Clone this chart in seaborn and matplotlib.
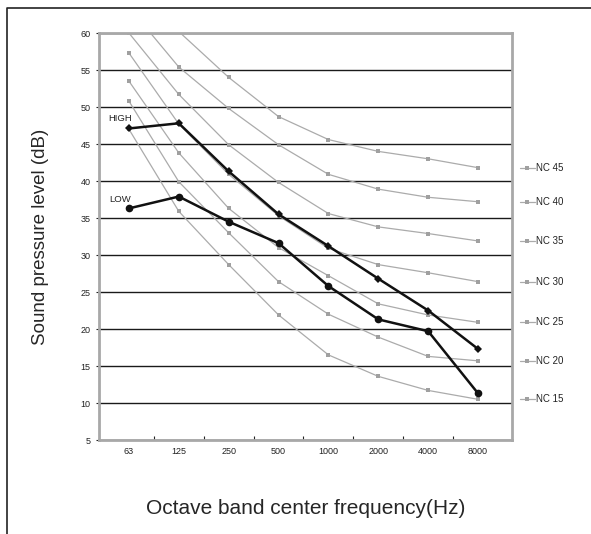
import numpy as np
import pandas as pd
import matplotlib

matplotlib.use('Agg')
import matplotlib.pyplot as plt
from matplotlib.lines import Line2D
import seaborn as sns

# Octave band centre frequencies (categorical axis)
freqs = ['63', '125', '250', '500', '1000', '2000', '4000', '8000']

# Measured spectra
high = [47.1, 47.8, 41.3, 35.5, 31.2, 26.8, 22.5, 17.3]
low = [36.3, 37.9, 34.5, 31.6, 25.8, 21.3, 19.7, 11.3]

# NC reference curves
nc_names = ['NC 45', 'NC 40', 'NC 35', 'NC 30', 'NC 25', 'NC 20', 'NC 15']
nc45 = [67.0, 60.2, 54.0, 48.7, 45.6, 44.0, 43.0, 41.8]
nc40 = [63.5, 55.4, 49.8, 44.9, 40.9, 38.9, 37.8, 37.2]
nc35 = [60.0, 51.7, 44.9, 39.8, 35.6, 33.8, 32.9, 31.9]
nc30 = [57.3, 47.7, 40.9, 35.3, 30.9, 28.7, 27.6, 26.4]
nc25 = [53.5, 43.8, 36.3, 31.0, 27.2, 23.4, 21.9, 20.9]
nc20 = [50.8, 39.9, 33.0, 26.4, 22.0, 18.9, 16.3, 15.7]
nc15 = [47.0, 35.9, 28.7, 21.9, 16.5, 13.6, 11.7, 10.5]
nc_values = [nc45, nc40, nc35, nc30, nc25, nc20, nc15]

sns.set_style('white')
plt.rcParams['font.family'] = ['Liberation Sans', 'DejaVu Sans']
plt.rcParams['text.color'] = '#222222'

fig = plt.figure(figsize=(5.91, 5.34), dpi=100)
ax = fig.add_axes([0.1675, 0.176, 0.6988, 0.7622])

# NC curves in light gray
for name, vals in zip(nc_names, nc_values):
    df = pd.DataFrame({'freq': freqs, 'spl': vals})
    sns.lineplot(data=df, x='freq', y='spl', ax=ax, color='#ababab', lw=0.9,
                 marker='s', markersize=3.2, markerfacecolor='#a0a0a0',
                 markeredgewidth=0, sort=False, zorder=2)

# HIGH / LOW spectra
df_high = pd.DataFrame({'freq': freqs, 'spl': high})
df_low = pd.DataFrame({'freq': freqs, 'spl': low})
sns.lineplot(data=df_high, x='freq', y='spl', ax=ax, color='#111111', lw=1.8,
             marker='D', markersize=4.5, markeredgewidth=0, sort=False, zorder=4)
sns.lineplot(data=df_low, x='freq', y='spl', ax=ax, color='#111111', lw=1.8,
             marker='o', markersize=5.5, markeredgewidth=0, sort=False, zorder=4)

ax.text(-0.42, high[0] + 0.7, 'HIGH', fontsize=6.8, ha='left', va='bottom')
ax.text(-0.40, low[0] + 0.6, 'LOW', fontsize=6.8, ha='left', va='bottom')

ax.set_xlim(-0.6, 7.68)
ax.set_ylim(5, 60)
ax.set_yticks(np.arange(5, 61, 5))
ax.yaxis.grid(True, color='#1a1a1a', lw=1.0)
ax.xaxis.grid(False)
ax.set_axisbelow(True)

ax.set_xticks(range(len(freqs)))
ax.set_xticklabels(freqs)
ax.set_xticks(np.arange(0.5, len(freqs) - 1, 1.0), minor=True)
ax.tick_params(axis='x', which='major', length=0, pad=5, labelsize=6.5,
               labelcolor='#222222')
ax.tick_params(axis='x', which='minor', direction='in', length=3, width=0.8,
               color='#222222', bottom=True)
ax.tick_params(axis='y', which='major', direction='out', length=2, width=0.8,
               color='#222222', pad=4, labelsize=6.5, labelcolor='#222222', left=True)

for sp in ax.spines.values():
    sp.set_color('#a8a8a8')
    sp.set_linewidth(2)

ax.set_xlabel('Octave band center frequency(Hz)', fontsize=15, labelpad=31)
ax.set_ylabel('Sound pressure level (dB)', fontsize=13.5, labelpad=23)

# End labels acting as a legend, aligned with the last value of each curve
for name, vals in zip(nc_names, nc_values):
    y = vals[-1]
    ax.add_line(Line2D([7.84, 8.14], [y, y], color='#ababab', lw=0.9,
                       clip_on=False))
    ax.plot([7.99], [y], marker='s', markersize=3.2, color='#a0a0a0',
            markeredgewidth=0, clip_on=False)
    ax.text(8.17, y, name, fontsize=7, ha='left', va='center', clip_on=False)

# partial outer frame (left and top)
fx = 7 / 591
fy = 1 - 8 / 534
fig.add_artist(Line2D([fx, fx, 1.0], [0.0, fy, fy], transform=fig.transFigure,
                      color='#222222', lw=1.2))

fig.savefig('out.png', dpi=100)
plt.close(fig)
